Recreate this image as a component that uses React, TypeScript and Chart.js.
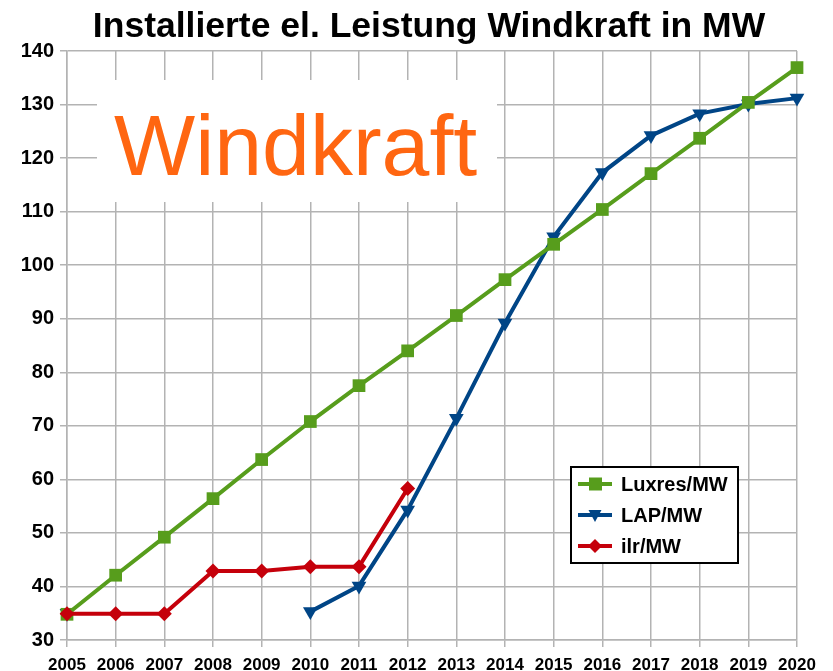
import React, { useEffect, useRef } from "react";
import { Chart, registerables } from "chart.js";

Chart.register(...registerables);

const TITLE = "Installierte el. Leistung Windkraft in MW";
const BADGE = "Windkraft";
const YEARS = ["2005","2006","2007","2008","2009","2010","2011","2012","2013","2014","2015","2016","2017","2018","2019","2020"];
const LUXRES = [34.8, 42.1, 49.2, 56.4, 63.7, 70.8, 77.5, 84.0, 90.6, 97.3, 103.9, 110.4, 117.1, 123.7, 130.4, 136.9];
const LAP = [35.0, null, null, null, null, 35.3, 40.1, 54.3, 71.4, 89.2, 105.3, 117.3, 124.2, 128.3, 130.1, 131.2];
const ILR = [34.9, 34.9, 34.9, 42.9, 42.9, 43.7, 43.7, 58.3, null, null, null, null, null, null, null, null];
const SERIES_NAMES = ["Luxres/MW", "LAP/MW", "ilr/MW"];

const GREEN = "#579d1c";
const BLUE = "#004586";
const RED = "#c5000b";
const GRID = "#b3b3b3";
const FONT = "'Liberation Sans', Arial, sans-serif";

const titlePlugin = {
  id: "customTitle",
  afterDraw(chart: any) {
    const ctx = chart.ctx;
    ctx.save();
    ctx.fillStyle = "#000000";
    ctx.font = `bold 35.5px ${FONT}`;
    ctx.textAlign = "center";
    ctx.textBaseline = "alphabetic";
    ctx.fillText(TITLE, 429, 37);
    ctx.restore();
  },
};

const badgePlugin = {
  id: "badge",
  beforeDatasetsDraw(chart: any) {
    const ctx = chart.ctx;
    ctx.save();
    ctx.fillStyle = "#ffffff";
    ctx.fillRect(97, 80, 400, 122);
    ctx.fillStyle = "#ff6611";
    ctx.font = `86px ${FONT}`;
    ctx.textBaseline = "alphabetic";
    ctx.textAlign = "left";
    ctx.fillText(BADGE, 114, 175);
    ctx.restore();
  },
};

const legendPlugin = {
  id: "boxLegend",
  afterDraw(chart: any) {
    const ctx = chart.ctx;
    ctx.save();
    ctx.fillStyle = "#ffffff";
    ctx.fillRect(570, 466, 169, 98);
    ctx.strokeStyle = "#000000";
    ctx.lineWidth = 2;
    ctx.strokeRect(571, 467, 167, 96);
    const ys = [484, 515, 546];
    chart.data.datasets.forEach((ds: any, i: number) => {
      const y = ys[i];
      ctx.strokeStyle = ds.borderColor;
      ctx.lineWidth = 4;
      ctx.beginPath();
      ctx.moveTo(578, y);
      ctx.lineTo(612, y);
      ctx.stroke();
      ctx.fillStyle = ds.borderColor;
      ctx.beginPath();
      if (i === 0) {
        ctx.rect(589, y - 6.5, 13, 13);
      } else if (i === 1) {
        ctx.moveTo(588.5, y - 5);
        ctx.lineTo(601.5, y - 5);
        ctx.lineTo(595, y + 7);
        ctx.closePath();
      } else {
        ctx.moveTo(595, y - 7);
        ctx.lineTo(602, y);
        ctx.lineTo(595, y + 7);
        ctx.lineTo(588, y);
        ctx.closePath();
      }
      ctx.fill();
      ctx.fillStyle = "#000000";
      ctx.font = `bold 20px ${FONT}`;
      ctx.textBaseline = "middle";
      ctx.textAlign = "left";
      ctx.fillText(ds.label, 621, y + 1);
    });
    ctx.restore();
  },
};

export default function App() {
  const ref = useRef<HTMLCanvasElement | null>(null);
  useEffect(() => {
    document.body.style.margin = "0";
    const canvas = ref.current;
    if (!canvas) return;
    const chart = new Chart(canvas, {
      type: "line",
      data: {
        labels: YEARS,
        datasets: [
          {
            label: SERIES_NAMES[0],
            data: LUXRES,
            borderColor: GREEN,
            backgroundColor: GREEN,
            borderWidth: 4,
            pointStyle: "rect",
            pointRadius: 9,
            pointBorderWidth: 0,
            order: 2,
          },
          {
            label: SERIES_NAMES[1],
            data: LAP,
            borderColor: BLUE,
            backgroundColor: BLUE,
            borderWidth: 4,
            pointStyle: "triangle",
            rotation: 180,
            pointRadius: 8.5,
            pointBorderWidth: 0,
            spanGaps: false,
            order: 3,
          },
          {
            label: SERIES_NAMES[2],
            data: ILR,
            borderColor: RED,
            backgroundColor: RED,
            borderWidth: 4,
            pointStyle: "rectRot",
            pointRadius: 7.5,
            pointBorderWidth: 0,
            order: 1,
          },
        ],
      },
      options: {
        animation: false,
        responsive: false,
        layout: { padding: { left: 0, right: 36, top: 51, bottom: 0 } },
        plugins: {
          legend: { display: false },
          tooltip: { enabled: false },
          title: { display: false },
        },
        scales: {
          x: {
            type: "category",
            offset: false,
            grid: { color: GRID, lineWidth: 1.5, tickLength: 7, drawTicks: true },
            border: { color: GRID, width: 1.5 },
            ticks: {
              color: "#000000",
              font: { family: FONT, size: 17, weight: "bold" },
              padding: 8,
              maxRotation: 0,
              autoSkip: false,
            },
            afterFit(scale: any) { scale.height = 31; },
          },
          y: {
            min: 30,
            max: 140,
            grid: { color: GRID, lineWidth: 1.5, tickLength: 7, drawTicks: true },
            border: { color: GRID, width: 1.5 },
            ticks: {
              stepSize: 10,
              color: "#000000",
              font: { family: FONT, size: 20, weight: "bold" },
              padding: 6,
            },
            afterFit(scale: any) { scale.width = 67; },
          },
        },
      },
      plugins: [badgePlugin, legendPlugin, titlePlugin],
    } as any);
    return () => chart.destroy();
  }, []);
  return (
    <div style={{ width: 833, height: 671, background: "#ffffff" }}>
      <canvas ref={ref} width={833} height={671} />
    </div>
  );
}
